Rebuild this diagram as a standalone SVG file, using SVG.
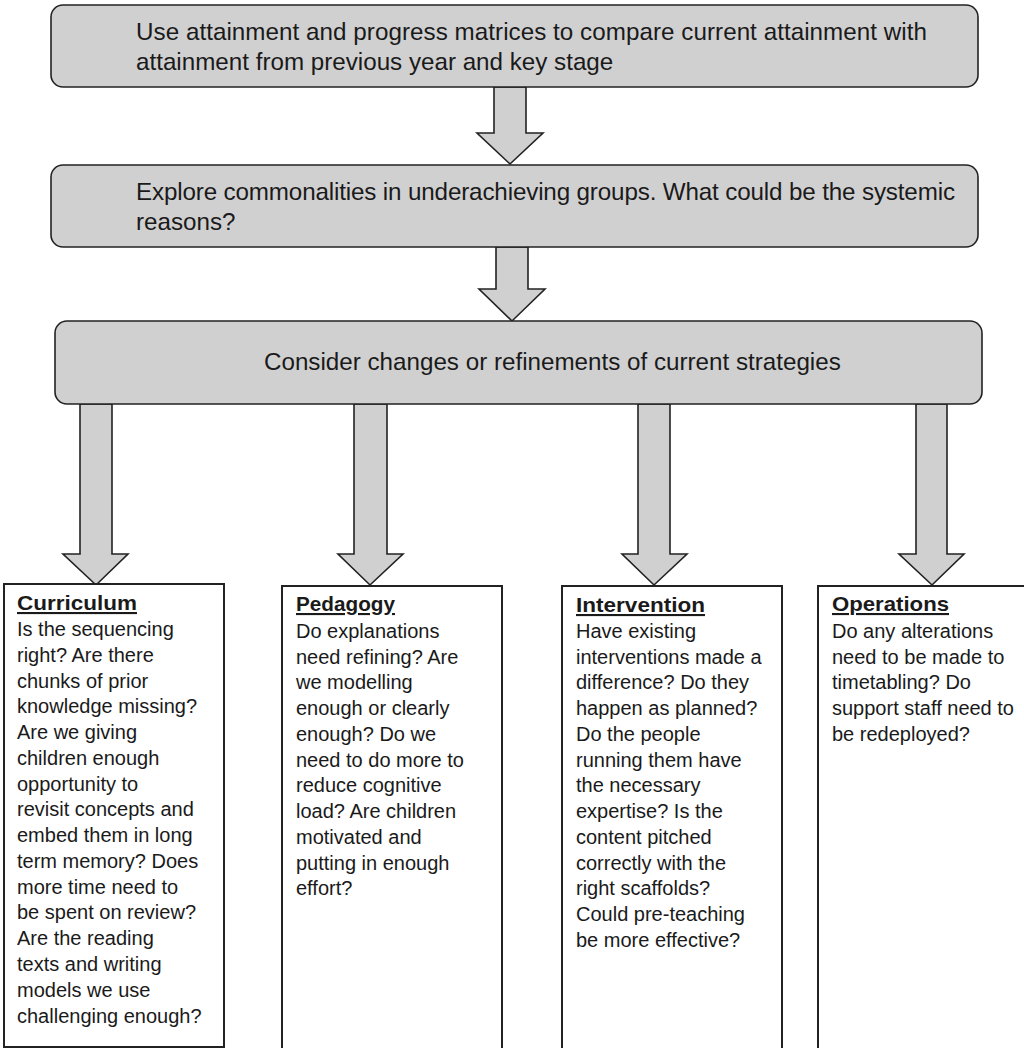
<svg xmlns="http://www.w3.org/2000/svg" width="1024" height="1048" viewBox="0 0 1024 1048">
<style>
  .proc { fill: #d1d0d1; stroke: #222; stroke-width: 1.6; }
  .box { fill: #fff; stroke: #222; stroke-width: 2; }
  .arrow { fill: #d1d0d1; stroke: #222; stroke-width: 1.6; stroke-linejoin: miter; }
  .big { font-family: "Liberation Sans", Arial, sans-serif; font-size: 24.2px; fill: #1a1a1a; }
  .body { font-family: "Liberation Sans", Arial, sans-serif; font-size: 20px; fill: #1a1a1a; }
  .title { font-family: "Liberation Sans", Arial, sans-serif; font-size: 21px; font-weight: bold; fill: #1a1a1a; text-decoration: underline; }
</style>
<rect width="1024" height="1048" fill="#fff"/>

<g id="connectors">
  <polygon class="arrow" points="494,87 526,87 526,133 543,133 510,164 477,133 494,133"/>
  <polygon class="arrow" points="496,247 528,247 528,289 545,289 512,321 479,289 496,289"/>
  <polygon class="arrow" points="80,404 112,404 112,554 128,554 96,585 63,554 80,554"/>
  <polygon class="arrow" points="354,404 387,404 387,554 403,554 370,585 338,554 354,554"/>
  <polygon class="arrow" points="638,404 670,404 670,554 687,554 654,585 622,554 638,554"/>
  <polygon class="arrow" points="916,404 947,404 947,554 964,554 932,585 899,554 916,554"/>
</g>

<g id="node-compare">
  <rect class="proc" x="51" y="5" width="927" height="82" rx="12" ry="12"/>
  <text class="big" x="136" y="40" textLength="791" lengthAdjust="spacing">Use attainment and progress matrices to compare current attainment with</text>
  <text class="big" x="136" y="70">attainment from previous year and key stage</text>
</g>

<g id="node-explore">
  <rect class="proc" x="51" y="165" width="927" height="82" rx="12" ry="12"/>
  <text class="big" x="136" y="200" textLength="819" lengthAdjust="spacing">Explore commonalities in underachieving groups. What could be the systemic</text>
  <text class="big" x="136" y="230">reasons?</text>
</g>

<g id="node-consider">
  <rect class="proc" x="55" y="321" width="927" height="83" rx="12" ry="12"/>
  <text class="big" x="264" y="370">Consider changes or refinements of current strategies</text>
</g>

<g id="node-curriculum">
  <rect class="box" x="4" y="584" width="220" height="463"/>
  <text class="title" x="17" y="610" textLength="120" lengthAdjust="spacingAndGlyphs">Curriculum</text>
  <text class="body">
    <tspan x="17" y="636">Is the sequencing</tspan>
    <tspan x="17" y="662">right? Are there</tspan>
    <tspan x="17" y="688">chunks of prior</tspan>
    <tspan x="17" y="713">knowledge missing?</tspan>
    <tspan x="17" y="739">Are we giving</tspan>
    <tspan x="17" y="765">children enough</tspan>
    <tspan x="17" y="791">opportunity to</tspan>
    <tspan x="17" y="816">revisit concepts and</tspan>
    <tspan x="17" y="842">embed them in long</tspan>
    <tspan x="17" y="868">term memory? Does</tspan>
    <tspan x="17" y="894">more time need to</tspan>
    <tspan x="17" y="919">be spent on review?</tspan>
    <tspan x="17" y="945">Are the reading</tspan>
    <tspan x="17" y="971">texts and writing</tspan>
    <tspan x="17" y="997">models we use</tspan>
    <tspan x="17" y="1023">challenging enough?</tspan>
  </text>
</g>

<g id="node-pedagogy">
  <rect class="box" x="282" y="586" width="220" height="480"/>
  <text class="title" x="296" y="611" textLength="99" lengthAdjust="spacingAndGlyphs">Pedagogy</text>
  <text class="body">
    <tspan x="296" y="638">Do explanations</tspan>
    <tspan x="296" y="664">need refining? Are</tspan>
    <tspan x="296" y="689">we modelling</tspan>
    <tspan x="296" y="715">enough or clearly</tspan>
    <tspan x="296" y="741">enough? Do we</tspan>
    <tspan x="296" y="767">need to do more to</tspan>
    <tspan x="296" y="792">reduce cognitive</tspan>
    <tspan x="296" y="818">load? Are children</tspan>
    <tspan x="296" y="844">motivated and</tspan>
    <tspan x="296" y="870">putting in enough</tspan>
    <tspan x="296" y="895">effort?</tspan>
  </text>
</g>

<g id="node-intervention">
  <rect class="box" x="562" y="586" width="220" height="480"/>
  <text class="title" x="576" y="612" textLength="129" lengthAdjust="spacingAndGlyphs">Intervention</text>
  <text class="body">
    <tspan x="576" y="638">Have existing</tspan>
    <tspan x="576" y="664">interventions made a</tspan>
    <tspan x="576" y="689">difference? Do they</tspan>
    <tspan x="576" y="715">happen as planned?</tspan>
    <tspan x="576" y="741">Do the people</tspan>
    <tspan x="576" y="767">running them have</tspan>
    <tspan x="576" y="792">the necessary</tspan>
    <tspan x="576" y="818">expertise? Is the</tspan>
    <tspan x="576" y="844">content pitched</tspan>
    <tspan x="576" y="870">correctly with the</tspan>
    <tspan x="576" y="895">right scaffolds?</tspan>
    <tspan x="576" y="921">Could pre-teaching</tspan>
    <tspan x="576" y="947">be more effective?</tspan>
  </text>
</g>

<g id="node-operations">
  <rect class="box" x="818" y="586" width="220" height="480"/>
  <text class="title" x="832" y="611" textLength="117" lengthAdjust="spacingAndGlyphs">Operations</text>
  <text class="body">
    <tspan x="832" y="638">Do any alterations</tspan>
    <tspan x="832" y="664">need to be made to</tspan>
    <tspan x="832" y="689">timetabling? Do</tspan>
    <tspan x="832" y="715">support staff need to</tspan>
    <tspan x="832" y="741">be redeployed?</tspan>
  </text>
</g>
</svg>
